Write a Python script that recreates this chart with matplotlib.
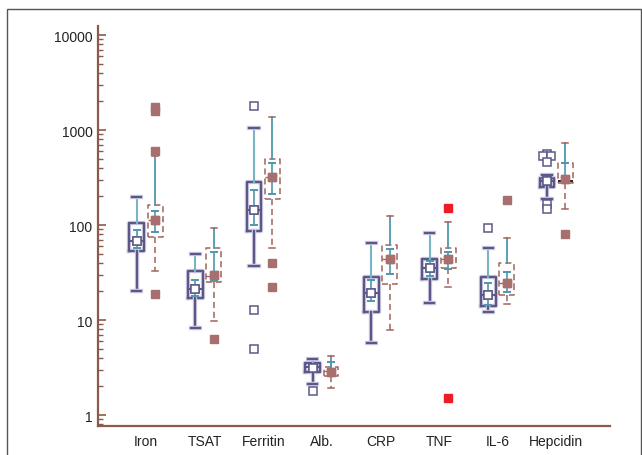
import matplotlib
matplotlib.use('Agg')
import matplotlib.pyplot as plt
import matplotlib.patheffects as pe
from matplotlib.patches import Rectangle
from matplotlib.ticker import LogLocator, NullFormatter, FixedLocator, FixedFormatter

plt.rcParams['font.family'] = ['Liberation Sans', 'DejaVu Sans']

categories = ['Iron', 'TSAT', 'Ferritin', 'Alb.', 'CRP', 'TNF', 'IL-6', 'Hepcidin']

# Group 1 (solid boxes, open mean squares)
g1_whislo = [20, 8.2, 37, 2.1, 5.7, 15, 12.1, 188]
g1_q1 = [53, 17, 86.5, 2.86, 12.1, 27, 14.2, 250]
g1_med = [68, 21, 144, 3.17, 19.2, 35, 18.3, 289]
g1_q3 = [105, 33, 286, 3.5, 28.6, 44, 28.6, 316]
g1_whishi = [195, 49.5, 1058, 3.9, 64.6, 82, 57, 338]
g1_mean = [68, 21, 144, 3.15, 19.2, 35, 18.3, 289]
g1_ci_lo = [57, 18, 99, 2.95, 15.9, 29, 14.4, 270]
g1_ci_hi = [88, 26.5, 236, 3.35, 26.4, 42, 24.6, 310]
g1_fliers = [[], [], [1790, 12.8, 5.0], [1.78], [], [], [92],
             [558, 528, 528, 457, 166, 147]]
g1_flier_dx = [[], [], [0, 0, 0], [0], [], [], [0],
               [0, -0.075, 0.075, 0, 0, 0]]

# Group 2 (dashed boxes, filled mean squares)
g2_whislo = [32.5, 9.8, 57, 1.92, 7.9, 22.4, 14.7, 146]
g2_q1 = [75, 25, 187, 2.55, 24, 35, 18.3, 277]
g2_med = [114, 29, 320, 2.9, 43.6, 43.6, 24.3, 289]
g2_q3 = [163, 57, 495, 3.17, 62, 57, 39.5, 450]
g2_whishi = [528, 92, 1370, 4.15, 125, 107, 72.5, 730]
g2_mean = [114, 30, 320, 2.86, 43.6, 43.6, 24.3, 307]
g2_ci_lo = [84, 26, 212, 2.7, 30.5, 34.4, 19.9, 290]
g2_ci_hi = [141, 51.5, 448, 3.6, 55.5, 51.5, 31.8, 450]
g2_fliers = [[1740, 1590, 597, 19], [6.3], [40, 22], [], [], [152, 1.5], [184], [81]]
g2_flier_red = [False, False, False, False, False, True, False, False]

PURPLE = '#5b5888'
HALO = '#d6d4ea'
TEAL = '#4f97ad'
TEAL_LIGHT = '#78b3c6'
BROWN = '#a0655a'
FILL = '#a86f6f'
AXIS = '#8c5a4a'

fig = plt.figure(figsize=(6.42, 4.56), dpi=100)
fig.patches.append(Rectangle((7 / 642, -0.1), (640.5 - 7) / 642, 1.1 - 10.3 / 456,
                             transform=fig.transFigure,
                             fill=False, edgecolor='#555555', linewidth=1.0, zorder=0))
ax = fig.add_axes([98 / 642, 1 - 426.7 / 456, 512 / 642, 400 / 456])

n = len(categories)
off = 0.157
pos1 = [i - off for i in range(n)]
pos2 = [i + off for i in range(n)]

stats1 = [dict(whislo=g1_whislo[i], q1=g1_q1[i], med=g1_med[i], q3=g1_q3[i],
               whishi=g1_whishi[i], mean=g1_mean[i], fliers=[]) for i in range(n)]
stats2 = [dict(whislo=g2_whislo[i], q1=g2_q1[i], med=g2_med[i], q3=g2_q3[i],
               whishi=g2_whishi[i], mean=g2_mean[i], fliers=[]) for i in range(n)]

halo = [pe.Stroke(linewidth=3.2, foreground=HALO), pe.Normal()]

b1 = ax.bxp(stats1, positions=pos1, widths=0.25, showmeans=True, showfliers=False,
            boxprops=dict(color=PURPLE, linewidth=1.7),
            whiskerprops=dict(color=PURPLE, linewidth=1.7),
            capprops=dict(color=PURPLE, linewidth=1.7),
            medianprops=dict(color=PURPLE, linewidth=1.5),
            meanprops=dict(marker='s', markerfacecolor='white', markeredgecolor=PURPLE,
                           markersize=6, markeredgewidth=1.1),
            capwidths=0.16, manage_ticks=False, zorder=3)
for k in ('boxes', 'caps', 'whiskers'):
    for ln in b1[k]:
        ln.set_path_effects(halo)
for j, ln in enumerate(b1['whiskers']):
    if j % 2 == 1:
        ln.set_color(TEAL_LIGHT)
        ln.set_linewidth(1.5)
        ln.set_path_effects([])

b2 = ax.bxp(stats2, positions=pos2, widths=0.25, showmeans=True, showfliers=False,
            boxprops=dict(color=BROWN, linewidth=1.1, linestyle=(0, (4, 2.5))),
            whiskerprops=dict(color=BROWN, linewidth=1.1, linestyle=(0, (4, 2.5))),
            capprops=dict(color=BROWN, linewidth=1.1),
            medianprops=dict(color=BROWN, linewidth=1.0, linestyle=(0, (3, 2))),
            meanprops=dict(marker='s', markerfacecolor=FILL, markeredgecolor=FILL,
                           markersize=6),
            capwidths=0.1, manage_ticks=False, zorder=3)
for j, ln in enumerate(b2['whiskers']):
    if j % 2 == 1:
        ln.set_color(TEAL)
        ln.set_linestyle('-')
        ln.set_linewidth(1.3)
b2['medians'][7].set_color('#222222')
b2['medians'][7].set_linestyle('-')
b2['medians'][7].set_linewidth(1.4)

# confidence interval error bars
for pos, mean, lo, hi in ((pos1, g1_mean, g1_ci_lo, g1_ci_hi), (pos2, g2_mean, g2_ci_lo, g2_ci_hi)):
    err = [[m - l for m, l in zip(mean, lo)], [h - m for h, m in zip(hi, mean)]]
    ax.errorbar(pos, mean, yerr=err, fmt='none', ecolor=TEAL, elinewidth=1.2,
                capsize=3.0, capthick=1.4, zorder=4)

# redraw mean markers on top
ax.plot(pos1, g1_mean, 's', markerfacecolor='white', markeredgecolor=PURPLE,
        markersize=6, markeredgewidth=1.1, linestyle='none', zorder=6)
ax.plot(pos2, g2_mean, 's', markerfacecolor=FILL, markeredgecolor=FILL,
        markersize=6, linestyle='none', zorder=6)

# outliers
for i in range(n):
    for v, dx in zip(g1_fliers[i], g1_flier_dx[i]):
        ax.plot(pos1[i] + dx, v, 's', markerfacecolor='white', markeredgecolor=PURPLE,
                markersize=6, markeredgewidth=1.1, zorder=5)
    col = '#ee1c24' if g2_flier_red[i] else FILL
    for v in g2_fliers[i]:
        ax.plot(pos2[i], v, 's', markerfacecolor=col, markeredgecolor=col,
                markersize=6, zorder=5)

ax.set_yscale('log')
ax.set_ylim(0.772, 12530)
ax.set_xlim(-0.819, 7.918)

ax.yaxis.set_major_locator(FixedLocator([1, 10, 100, 1000, 10000]))
ax.yaxis.set_major_formatter(FixedFormatter(['1', '10', '100', '1000', '10000']))
ax.yaxis.set_minor_locator(LogLocator(base=10, subs=range(2, 10)))
ax.yaxis.set_minor_formatter(NullFormatter())
ax.tick_params(axis='y', which='major', direction='in', length=6, width=1.2,
               color=AXIS, labelsize=10, labelcolor='#222222', pad=4)
ax.tick_params(axis='y', which='minor', direction='in', length=3.8, width=1.0, color=AXIS)

ax.set_xticks(range(n))
ax.set_xticklabels(categories)
ax.tick_params(axis='x', length=0, labelsize=10, labelcolor='#222222', pad=6)

for s in ('top', 'right'):
    ax.spines[s].set_visible(False)
for s in ('left', 'bottom'):
    ax.spines[s].set_color(AXIS)
    ax.spines[s].set_linewidth(1.6)

fig.savefig('out.png', dpi=100)
